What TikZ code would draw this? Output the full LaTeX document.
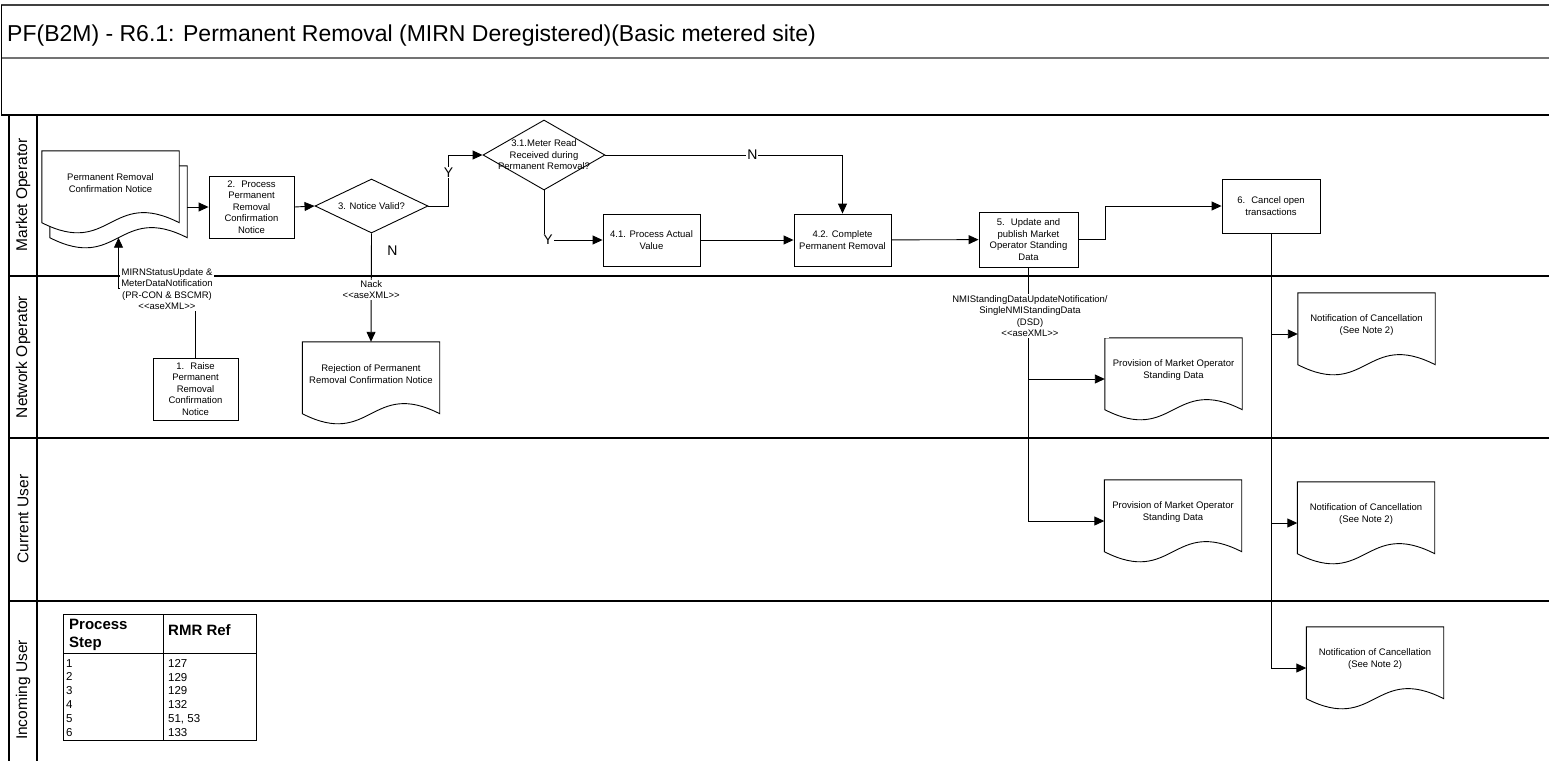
\documentclass[tikz,border=0pt]{standalone}
\usepackage{fontspec}
\setmainfont{Liberation Sans}
\usetikzlibrary{shapes.geometric, arrows.meta, calc, backgrounds}

\newcommand{\smallfont}{\fontsize{9.5}{11.5}\selectfont}
\newcommand{\ynfont}{\fontsize{14}{16}\selectfont}
\newcommand{\lanefont}{\fontsize{15.5}{18}\selectfont}
\newcommand{\titlefont}{\fontsize{23}{26}\selectfont}
\newcommand{\headfont}{\fontsize{15}{18}\selectfont\bfseries}
\newcommand{\rowfont}{\fontsize{11.5}{13.8}\selectfont}

\tikzstyle{process} = [rectangle, draw=black, fill=white, text centered,
                       align=center, font=\smallfont, inner sep=1pt,
                       line width=0.9pt]
\tikzstyle{decision} = [diamond, draw=black, fill=white, inner sep=0pt,
                        line width=0.9pt]
\tikzstyle{dectext} = [align=center, font=\smallfont]
\tikzstyle{doc} = [rectangle, draw=none, inner sep=0pt,
                   minimum width=137pt, minimum height=82pt]
\tikzstyle{doctext} = [align=center, font=\smallfont, yshift=9pt]
\tikzstyle{msglabel} = [fill=white, align=center, font=\smallfont, inner sep=1pt]
\tikzstyle{yn} = [fill=white, font=\ynfont, inner sep=1pt]
\tikzstyle{lane} = [rotate=90, font=\lanefont]
\tikzstyle{laneline} = [line width=1.1pt]
\tikzstyle{arrow} = [line width=0.9pt, ->, >={Triangle[length=10pt, width=9pt]}]

\newcommand{\drawdoc}[2][]{%
    \draw [line width=0.9pt, #1] (#2.north west) -- (#2.north east)
        -- ($(#2.south east)+(0,-10.5)$)
        .. controls ($(#2.south)+(0,-45.5)$) and ($(#2.south)+(0,24.5)$)
        .. ($(#2.south west)+(0,-10.5)$) -- cycle;}

\begin{document}
\begin{tikzpicture}[x=1pt, y=-1pt]

    \useasboundingbox (0,0) rectangle (1549,761);

    % header rows and swimlanes
    \draw [line width=2pt, black!75] (1,5) -- (1549,5);
    \draw [line width=1.5pt, black!55] (1,58) -- (1549,58);
    \draw [line width=1pt] (1,5) -- (1,115);
    \draw [laneline] (1,115) -- (1549,115);
    \draw [laneline] (9,115) -- (9,761);
    \draw [laneline] (37,115) -- (37,761);
    \draw [laneline] (9,276) -- (1549,276);
    \draw [laneline] (9,438) -- (1549,438);
    \draw [laneline] (9,601) -- (1549,601);

    \node (Title) [anchor=west, font=\titlefont, inner sep=0pt] at (7,36) {PF(B2M) - R6.1: Permanent Removal (MIRN Deregistered)(Basic metered site)};

    \node (MarketOperator) [lane] at (23,195) {Market Operator};
    \node (NetworkOperator) [lane] at (23,357) {Network Operator};
    \node (CurrentUser) [lane] at (23,519) {Current User};
    \node (IncomingUser) [lane] at (23,690) {Incoming User};

    % documents
    \node (MultiDocBack) [doc] at (118.5,207) {};
    \node (MultiDoc) [doc, label={[doctext]center:{Permanent Removal\\Confirmation Notice}}] at (110.5,192) {};
    \begin{pgfonlayer}{background}
        \drawdoc[fill=white]{MultiDocBack}
        \drawdoc[fill=white]{MultiDoc}
    \end{pgfonlayer}

    \node (Rejection) [doc, label={[doctext]center:{Rejection of Permanent\\Removal Confirmation Notice}}] at (371,383) {};
    \node (ProvisionNO) [doc, label={[doctext]center:{Provision of Market Operator\\Standing Data}}] at (1173.5,379) {};
    \node (ProvisionCU) [doc, label={[doctext]center:{Provision of Market Operator\\Standing Data}}] at (1173,521) {};
    \node (CancelNO) [doc, label={[doctext]center:{Notification of Cancellation\\(See Note 2)}}] at (1366.5,334) {};
    \node (CancelCU) [doc, label={[doctext]center:{Notification of Cancellation\\(See Note 2)}}] at (1366,523) {};
    \node (CancelIU) [doc, label={[doctext]center:{Notification of Cancellation\\(See Note 2)}}] at (1375,668) {};
    \drawdoc{Rejection}
    \drawdoc{ProvisionNO}
    \drawdoc{ProvisionCU}
    \drawdoc{CancelNO}
    \drawdoc{CancelCU}
    \drawdoc{CancelIU}

    % process steps
    \node (Step1) [process, minimum width=85pt, minimum height=62pt] at (195.5,389) {1.~ Raise\\Permanent\\Removal\\Confirmation\\Notice};

    \node (Step2) [process, minimum width=85pt, minimum height=62pt] at (251.5,207) {2.~ Process\\Permanent\\Removal\\Confirmation\\Notice};

    \node (Valid) [decision, minimum width=113pt, minimum height=54pt, label={[dectext]center:3. Notice Valid?}] at (371.5,206) {};

    \node (MeterRead) [decision, minimum width=122pt, minimum height=70pt, label={[dectext]center:{3.1.Meter Read\\Received during\\Permanent Removal?}}] at (544,155) {};

    \node (Step41) [process, minimum width=97pt, minimum height=52pt] at (651.5,240) {4.1. Process Actual\\Value};

    \node (Step42) [process, minimum width=97pt, minimum height=52pt] at (842.5,240) {4.2. Complete\\Permanent Removal};

    \node (Step5) [process, minimum width=99pt, minimum height=55pt] at (1028.5,239.5) {5.~ Update and\\publish Market\\Operator Standing\\Data};

    \node (Step6) [process, minimum width=98pt, minimum height=54pt] at (1271,206) {6.~ Cancel open\\transactions};

    % flows
    \draw [arrow] (MultiDocBack.east |- Step2.west) -- (Step2.west);
    \draw [arrow] (Step2.east) -- (Valid.west);
    \draw [arrow] (Valid.east) -- ++(20,0) |- node [yn, pos=0.33] {Y} (MeterRead.west);
    \draw [arrow] (MeterRead.east) -| node [yn, pos=0.31] {N} (Step42.north);
    \draw [arrow] (MeterRead.south) |- node [yn, pos=0.5, xshift=4pt] {Y} (Step41.west);
    \draw [arrow] (Step41) -- (Step42);
    \draw [arrow] (Step42) -- (Step5);
    \draw [arrow] (Step5.east) -- ++(27,0) |- (Step6.west);
    \draw [arrow] (Valid.south) -- node [msglabel, pos=0.52] {Nack\\<{}<aseXML>{}>} node [yn, pos=0.16, xshift=21pt, fill=none] {N} (Rejection.north);

    \draw [arrow] (Step1.north) |- ($(MultiDocBack.south)+(0,40)$) -- ($(MultiDocBack.south)+(0,-10.5)$);
    \node (MIRNLabel) [msglabel] at (167,289) {MIRNStatusUpdate \&\\MeterDataNotification\\(PR-CON \& BSCMR)\\<{}<aseXML>{}>};

    \draw [arrow] (Step5.south) |- (ProvisionNO.west);
    \draw [arrow] (Step5.south) |- (ProvisionCU.west);
    \node (NMILabel) [msglabel] at (1030,316) {NMIStandingDataUpdateNotification/\\SingleNMIStandingData\\(DSD)\\<{}<aseXML>{}>};

    \draw [arrow] (Step6.south) |- (CancelNO.west);
    \draw [arrow] (Step6.south) |- (CancelCU.west);
    \draw [arrow] (Step6.south) |- (CancelIU.west);

    % reference table
    \draw [line width=0.8pt] (63,614) rectangle (256,740);
    \draw [line width=0.8pt] (63,653) -- (256,653);
    \draw [line width=0.8pt] (163,614) -- (163,740);
    \node (StepHead) [anchor=north west, align=left, inner sep=0pt, font=\headfont] at (69,619) {Process\\Step};
    \node (RefHead) [anchor=west, inner sep=0pt, font=\headfont] at (168,630) {RMR Ref};
    \node (StepCol) [anchor=north west, align=left, inner sep=0pt, font=\rowfont] at (66,659) {1\\2\\3\\4\\5\\6};
    \node (RefCol) [anchor=north west, align=left, inner sep=0pt, font=\rowfont] at (168,659) {127\\129\\129\\132\\51, 53\\133};

\end{tikzpicture}
\end{document}
